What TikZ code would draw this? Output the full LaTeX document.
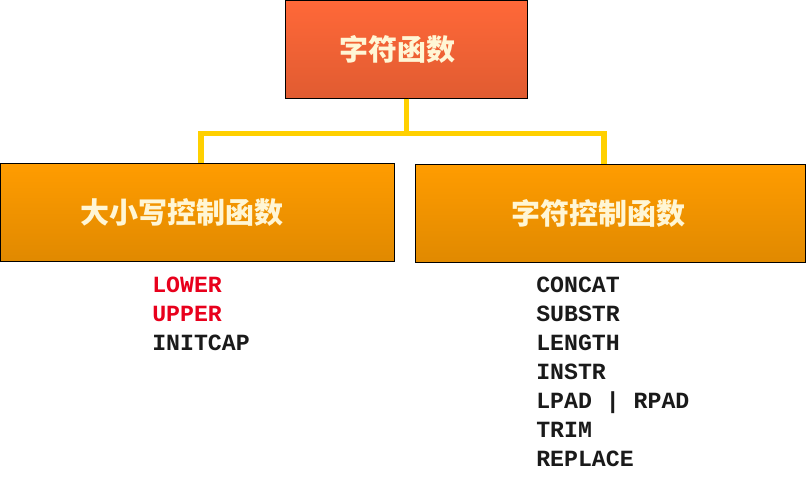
\documentclass[tikz,border=0pt]{standalone}
\usepackage{fontspec}
\setmonofont{Liberation Mono}
\newfontfamily\cjk{Noto Sans CJK SC}
\usetikzlibrary{positioning}
\definecolor{rootRed}{HTML}{FF6838}
\definecolor{branchOrange}{HTML}{FF9C00}
\definecolor{linkGold}{HTML}{FFD000}
\definecolor{titleCream}{HTML}{FFF6D5}
\definecolor{fnRed}{HTML}{E8001C}
\definecolor{fnDark}{HTML}{1A1A1A}

\begin{document}
\begin{tikzpicture}[x=0.75pt, y=-0.75pt,
    box/.style={rectangle, draw=black, line width=0.8pt, inner sep=0pt,
                top color=#1, bottom color=#1!88!black,
                font=\cjk\bfseries\fontsize{21.75}{26}\selectfont\color{titleCream}},
    link/.style={draw=linkGold, line width=3.8pt},
    fn/.style={anchor=base west, inner sep=0pt,
               font=\ttfamily\bfseries\fontsize{17.4}{21}\selectfont},
  ]
    \useasboundingbox (0,0) rectangle (806,493);

    \node[box=rootRed, minimum width=181pt, minimum height=73pt] (root)
      at (406.5,49.5) {字符函数\hspace*{14pt}};
    \node[box=branchOrange, minimum width=295pt, minimum height=73pt] (caseFn)
      at (197.5,212.5) {大小写控制函数\hspace*{24pt}};
    \node[box=branchOrange, minimum width=292pt, minimum height=74pt] (charFn)
      at (610.5,213.5) {字符控制函数\hspace*{18pt}};

    \draw[link] (root.south) -- ++(0,35) -| ([xshift=2.6pt]caseFn.north);
    \draw[link] (root.south) -- ++(0,35) -| ([xshift=-4.9pt]charFn.north);

    % function names
    \foreach \fname/\fcol [count=\i] in {LOWER/fnRed, UPPER/fnRed, INITCAP/fnDark}
      \node[fn, text=\fcol] (case\i) at (152, 263+29*\i) {\fname};
    \foreach \fname [count=\i] in {CONCAT, SUBSTR, LENGTH, INSTR, LPAD | RPAD, TRIM, REPLACE}
      \node[fn, text=fnDark] (char\i) at (536, 263+29*\i) {\fname};
  \end{tikzpicture}
\end{document}
